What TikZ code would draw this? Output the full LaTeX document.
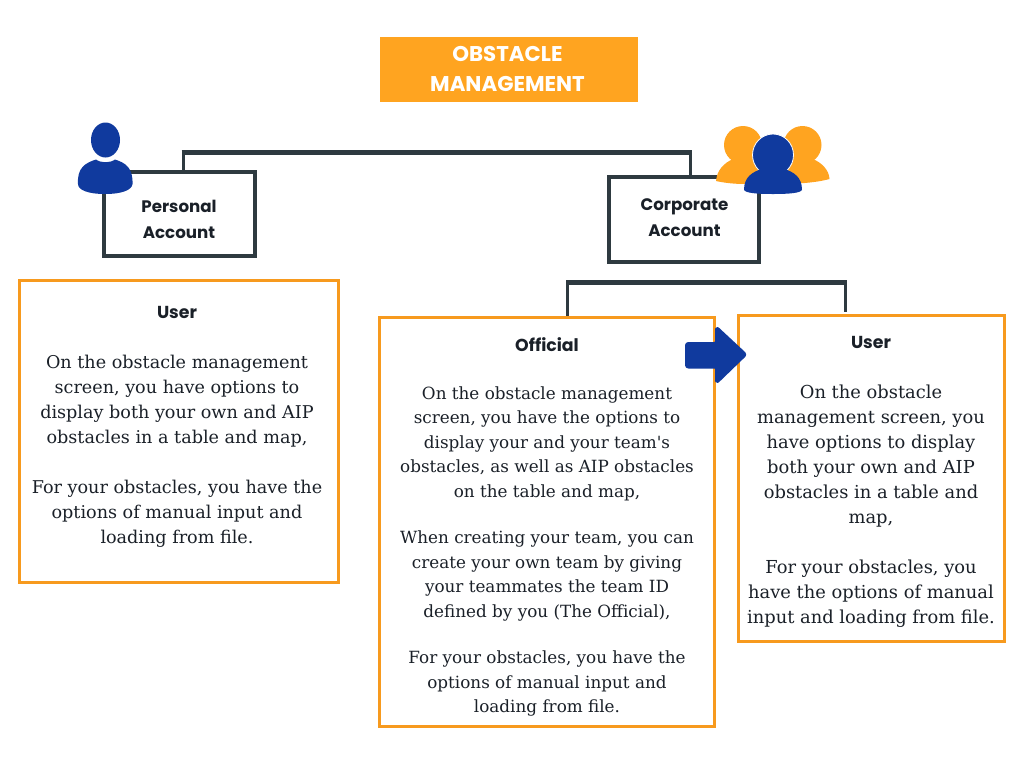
\documentclass[tikz,border=0pt]{standalone}
\usepackage{fontspec}
\setmainfont{DejaVu Serif}
\newfontfamily\headfont{Poppins}
\definecolor{orangefill}{HTML}{FFA420}
\definecolor{orangeline}{HTML}{F79A1E}
\definecolor{darkline}{HTML}{2E3A40}
\definecolor{blueicon}{HTML}{103A9E}
\definecolor{inktext}{HTML}{1A2028}
\newdimen\pxu
\pxu=0.75pt
\tikzset{
  titlebox/.style={fill=orangefill,draw=none,minimum width=258\pxu,minimum height=65\pxu,inner sep=0pt},
  titletext/.style={text=white,align=center,inner sep=0pt,font=\headfont\bfseries\fontsize{16}{22.8}\selectfont},
  accountbox/.style={draw=darkline,line width=4\pxu,fill=white,inner sep=0pt},
  accounttext/.style={align=center,inner sep=0pt,text=inktext,font=\headfont\bfseries\fontsize{12.5}{19.5}\selectfont},
  infobox/.style={draw=orangeline,line width=3\pxu,fill=white,inner sep=0pt},
  bodytext/.style={align=center,inner sep=0pt,text=inktext},
  headtext/.style={inner sep=0pt,text=inktext,font=\headfont\bfseries\fontsize{13}{15}\selectfont},
  barline/.style={draw=darkline,line width=3\pxu},
  thickbar/.style={draw=darkline,line width=5\pxu},
}
\begin{document}
\begin{tikzpicture}[x=0.75pt,y=-0.75pt]
\useasboundingbox (0,0) rectangle (1024,768);
\fill[white] (0,0) rectangle (1024,768);
% title
\node[titlebox] (title) at (509,69.5) {};
\node[titletext] (titlelabel) at (507.5,69) {OBSTACLE\\MANAGEMENT};
% account boxes
\node[accountbox,minimum width=151\pxu,minimum height=84\pxu] (personal) at (179.5,214) {};
\node[accountbox,minimum width=150\pxu,minimum height=85\pxu] (corporate) at (684,219) {};
\node[accounttext] (personallabel) at (179,219) {Personal\\Account};
\node[accounttext] (corporatelabel) at (684.5,217.5) {Corporate\\Account};
\coordinate (topl) at (183,152);
\coordinate (topr) at (690,152);
\draw[barline] (topl) -- (personal.north -| topl);
\draw[barline] (topr) -- (corporate.north -| topr);
\draw[thickbar] ([xshift=-1.5\pxu]topl) -- ([xshift=1.5\pxu]topr);
% info boxes
\node[infobox,minimum width=319\pxu,minimum height=302\pxu] (userA) at (179,431.5) {};
\node[infobox,minimum width=335\pxu,minimum height=409\pxu] (official) at (547,522) {};
\node[infobox,minimum width=266\pxu,minimum height=326\pxu] (userB) at (871.5,478.5) {};
% lower connector
\coordinate (barl) at (567.5,282);
\coordinate (barr) at (845,282);
\draw[barline] (barl) -- (official.north -| barl);
\draw[barline] (barr) -- ([yshift=2\pxu]userB.north -| barr);
\draw[thickbar] ([xshift=-1.5\pxu]barl) -- ([xshift=1.5\pxu]barr);
% texts
\node[headtext] (h1) at (177,312) {User};
\node[bodytext,font=\fontsize{13.2}{18.75}\selectfont] (t1) at (177,451) {On the obstacle management\\screen, you have options to\\display both your own and AIP\\obstacles in a table and map,\\[18.75pt]For your obstacles, you have the\\options of manual input and\\loading from file.};
\node[headtext] (h2) at (547,345) {Official};
\node[bodytext,font=\fontsize{12.6}{18.4}\selectfont] (t2) at (547,551.5) {On the obstacle management\\screen, you have the options to\\display your and your team\textquotesingle s\\obstacles, as well as AIP obstacles\\on the table and map,\\[16.4pt]When creating your team, you can\\create your own team by giving\\your teammates the team ID\\defined by you (The Official),\\[16.4pt]For your obstacles, you have the\\options of manual input and\\loading from file.};
\node[headtext] (h3) at (871,342) {User};
\node[bodytext,font=\fontsize{13.4}{18.75}\selectfont] (t3) at (871,506) {On the obstacle\\management screen, you\\have options to display\\both your own and AIP\\obstacles in a table and\\map,\\[18.75pt]For your obstacles, you\\have the options of manual\\input and loading from file.};
% arrow
\fill[blueicon,draw=blueicon,line width=3\pxu,line join=round,rounded corners=2\pxu]
  (686.5,343.5) -- (716.5,343.5) -- (716.5,327.5) -- (745.5,354.5) -- (716.5,382.5) -- (716.5,367) -- (686.5,367) -- cycle;
% single user icon
\fill[blueicon] (105.5,140) ellipse [x radius=14.5,y radius=17.5];
\fill[blueicon] (78,184) .. controls (77,168) and (85,163) .. (96,159.5)
  .. controls (100,163) and (111,163) .. (115,159.5)
  .. controls (126,163) and (133,168) .. (132.5,184)
  .. controls (132,190) and (122,194) .. (105,194)
  .. controls (88,194) and (78,190) .. (78,184) -- cycle;
% group icon
\fill[orangefill] (743,145) circle [radius=19];
\fill[orangefill] (802.5,145) circle [radius=19];
\fill[orangefill] (716,181) .. controls (717,170) and (724,163) .. (733,159) -- (755,159) -- (770,184) -- (745,184) .. controls (735,184) and (725,183) .. (716,181) -- cycle;
\fill[orangefill] (829.5,179) .. controls (829,170) and (822,163) .. (813,159) -- (790,159) -- (776,184) .. controls (795,184) and (815,183) .. (829.5,179) -- cycle;
\fill[blueicon,draw=white,line width=0.8\pxu] (773,155) ellipse [x radius=20.5,y radius=21];
\fill[blueicon] (744,190) .. controls (744,177) and (752,172) .. (763,168.5)
  .. controls (768,172) and (778,172) .. (783,168.5)
  .. controls (794,172) and (802,177) .. (802,190)
  .. controls (800,193) and (790,194) .. (773,194)
  .. controls (756,194) and (746,193) .. (744,190) -- cycle;
\end{tikzpicture}
\end{document}
